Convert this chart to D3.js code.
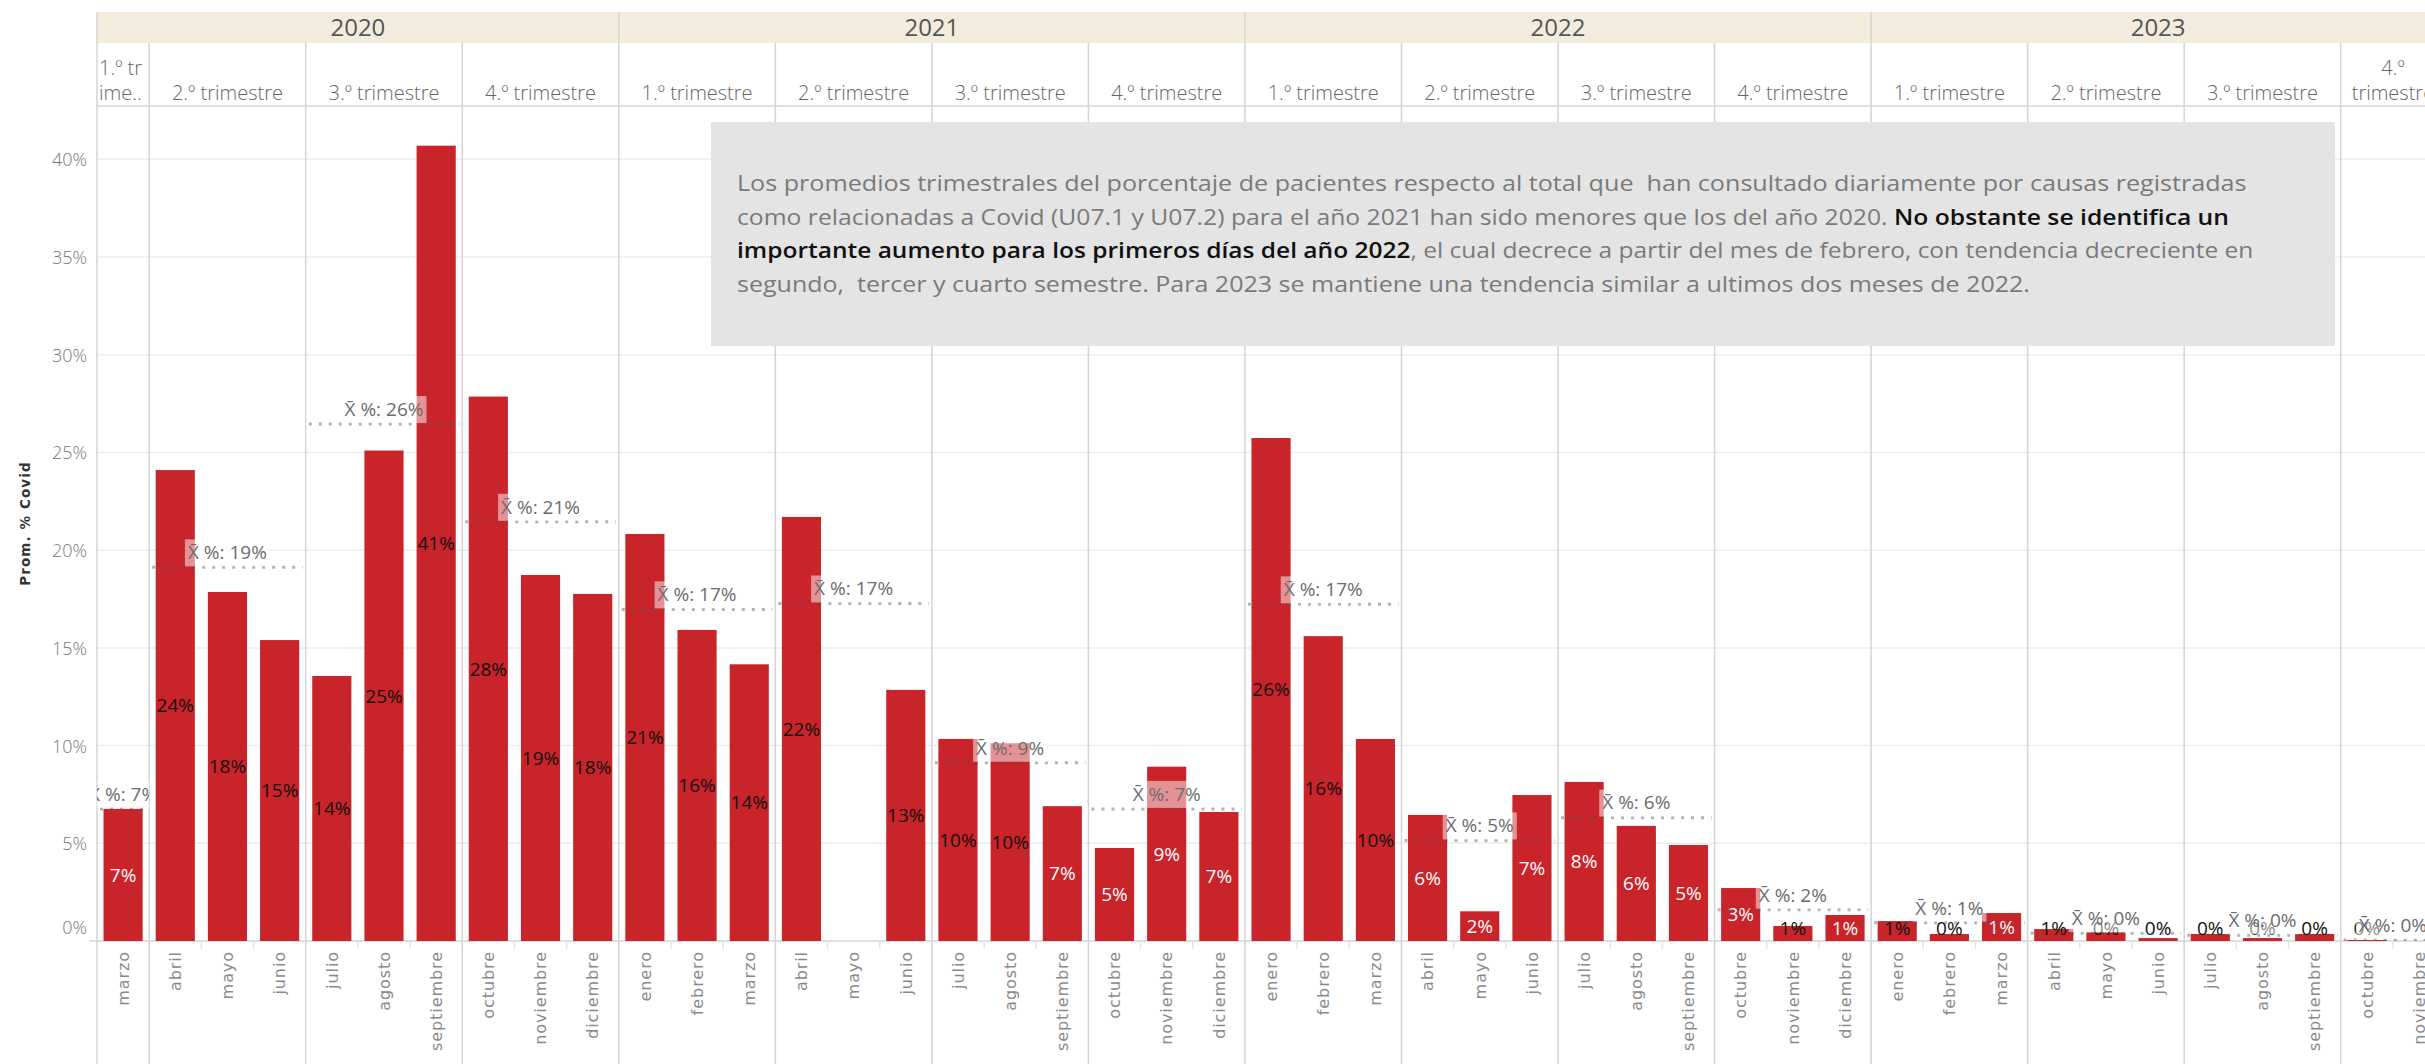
<!DOCTYPE html>
<html><head><meta charset="utf-8">
<script src="https://cdn.jsdelivr.net/npm/d3@7"></script>
<style>
html,body{margin:0;padding:0;background:#fff;}
svg{display:block;}
</style></head><body>
<svg id="chart" width="2425" height="1064" font-family="'Open Sans','Noto Sans',sans-serif"></svg>
<script>
// ---------------- DATA ----------------
const monthNames = ["enero","febrero","marzo","abril","mayo","junio","julio","agosto","septiembre","octubre","noviembre","diciembre"];
const years = [2020, 2021, 2022, 2023];
const firstMonthOfYear = [2, 0, 0, 0];
const values2020 = [6.76, 24.1, 17.86, 15.4, 13.56, 25.1, 40.7, 27.86, 18.73, 17.76];
const values2021 = [20.83, 15.92, 14.16, 21.7, null, 12.85, 10.34, 10.12, 6.9, 4.76, 8.92, 6.6];
const values2022 = [25.74, 15.6, 10.34, 6.45, 1.52, 7.47, 8.14, 5.89, 4.91, 2.71, 0.77, 1.33];
const values2023 = [1.02, 0.36, 1.43, 0.61, 0.44, 0.15, 0.36, 0.15, 0.36, 0.05, null];
const quarterLabels = ["1.º trimestre", "2.º trimestre", "3.º trimestre", "4.º trimestre"];
const yTickValues = [0, 5, 10, 15, 20, 25, 30, 35, 40];
const yAxisTitle = "Prom. % Covid";
const meanPrefix = "X\u0304 %: ";
const noteLines = [
  [{t:"Los promedios trimestrales del porcentaje de pacientes respecto al total que  han consultado diariamente por causas registradas", b:false}],
  [{t:"como relacionadas a Covid (U07.1 y U07.2) para el año 2021 han sido menores que los del año 2020. ", b:false},{t:"No obstante se identifica un", b:true}],
  [{t:"importante aumento para los primeros días del año 2022", b:true},{t:", el cual decrece a partir del mes de febrero, con tendencia decreciente en", b:false}],
  [{t:"segundo,  tercer y cuarto semestre. Para 2023 se mantiene una tendencia similar a ultimos dos meses de 2022.", b:false}]
];
const seriesByYear = [values2020, values2021, values2022, values2023];

// ---------------- LAYOUT ----------------
const W = 2425, H = 1064;
const plotLeft = 97, plotTop = 106, baseY = 941;
const monthStep = 52.18;
const bandTop = 12, bandBottom = 43;
const lineCol = "#d4d4d4";
const barCol = "#c8242a";

const rows = [];
years.forEach((yr, i) => {
  seriesByYear[i].forEach((v, j) => {
    const m = firstMonthOfYear[i] + j;
    rows.push({key: yr + "-" + m, year: yr, month: m, q: Math.floor(m / 3), value: v});
  });
});

const x = d3.scaleBand().domain(rows.map(d => d.key))
  .range([plotLeft, plotLeft + rows.length * monthStep])
  .paddingInner(0.25).paddingOuter(0.125);
const y = d3.scaleLinear().domain([0, 42.73]).range([baseY, plotTop]);
const half = x.step() * x.paddingOuter();

const quarters = d3.groups(rows, d => d.year + "-" + d.q).map(([k, ms]) => ({
  key: k, year: ms[0].year, q: ms[0].q, months: ms,
  x0: x(ms[0].key) - half,
  x1: x(ms[ms.length - 1].key) + x.bandwidth() + half,
  mean: d3.mean(ms, d => d.value)
}));
const yearSpans = d3.groups(quarters, d => d.year).map(([yr, qs]) => ({
  year: yr, x0: qs[0].x0, x1: qs[qs.length - 1].x1
}));
const yearStarts = new Set(yearSpans.map(d => d.x0));

const svg = d3.select("#chart");
const defs = svg.append("defs");

// year band
svg.append("rect").attr("x", plotLeft).attr("y", bandTop).attr("width", W - plotLeft)
  .attr("height", bandBottom - bandTop).attr("fill", "#f3ecdc");

// gridlines
svg.append("g").selectAll("line").data(yTickValues.filter(v => v > 0)).join("line")
  .attr("x1", plotLeft).attr("x2", W).attr("y1", d => y(d)).attr("y2", d => y(d))
  .attr("stroke", "#eeeeee").attr("stroke-width", 1.5);

// header bottom and baseline
svg.append("line").attr("x1", plotLeft).attr("x2", W).attr("y1", plotTop).attr("y2", plotTop)
  .attr("stroke", lineCol).attr("stroke-width", 1.5);
svg.append("line").attr("x1", plotLeft - 8).attr("x2", W).attr("y1", baseY).attr("y2", baseY)
  .attr("stroke", lineCol).attr("stroke-width", 1.5);

// left edge
svg.append("line").attr("x1", plotLeft).attr("x2", plotLeft).attr("y1", bandTop).attr("y2", H)
  .attr("stroke", lineCol).attr("stroke-width", 1.5);
// quarter / year dividers
svg.append("g").selectAll("line").data(quarters.filter(q => q.x0 > plotLeft + 1)).join("line")
  .attr("x1", d => d.x0).attr("x2", d => d.x0)
  .attr("y1", d => yearStarts.has(d.x0) ? bandTop : bandBottom)
  .attr("y2", H).attr("stroke", lineCol).attr("stroke-width", 1.5);

// month separator ticks
svg.append("g").selectAll("line").data(rows.filter(d => d.month % 3 !== 0 && !(d.year === years[0] && d.month === firstMonthOfYear[0]))).join("line")
  .attr("x1", d => x(d.key) - half).attr("x2", d => x(d.key) - half)
  .attr("y1", baseY).attr("y2", baseY + 8).attr("stroke", "#e4e4e4").attr("stroke-width", 1.5);

// bars
const barData = rows.filter(d => d.value != null);
svg.append("g").selectAll("rect").data(barData).join("rect")
  .attr("x", d => x(d.key)).attr("width", x.bandwidth())
  .attr("y", d => y(d.value)).attr("height", d => baseY - y(d.value))
  .attr("fill", barCol);

// bar labels
svg.append("g").selectAll("text").data(barData).join("text")
  .attr("x", d => x(d.key) + x.bandwidth() / 2)
  .attr("y", d => Math.min((y(d.value) + baseY) / 2, baseY - 13))
  .attr("dy", "0.36em").attr("text-anchor", "middle")
  .attr("font-size", 19)
  .attr("fill", d => (d.value >= 9.95 || baseY - y(d.value) < 22) ? "#111" : "#ffffff")
  .text(d => Math.round(d.value) + "%");

// mean lines + labels, clipped per quarter pane
quarters.forEach((q, i) => {
  const id = "clipq" + i;
  defs.append("clipPath").attr("id", id).append("rect")
    .attr("x", q.x0).attr("y", plotTop).attr("width", q.x1 - q.x0).attr("height", baseY - plotTop);
  const g = svg.append("g").attr("clip-path", `url(#${id})`);
  const my = y(q.mean);
  g.append("line").attr("x1", q.x0 + 3).attr("x2", q.x1 - 3).attr("y1", my).attr("y2", my)
    .attr("stroke", "#555").attr("stroke-opacity", 0.45).attr("stroke-width", 3)
    .attr("stroke-dasharray", "3 7");
  const cx = (q.x0 + q.x1) / 2, cy = my - 15;
  const bg = g.append("rect");
  const t = g.append("text").attr("x", cx).attr("y", cy).attr("dy", "0.36em")
    .attr("text-anchor", "middle").attr("font-size", 19).attr("fill", "#6c6c6c")
    .text(meanPrefix + Math.round(q.mean) + "%");
  const bb = t.node().getBBox();
  bg.attr("x", bb.x - 3).attr("width", bb.width + 6).attr("y", cy - 13).attr("height", 27)
    .attr("fill", "#fff").attr("fill-opacity", 0.5);
});

// y axis
const yAxis = svg.append("g").attr("transform", `translate(${plotLeft - 10},0)`)
  .call(d3.axisLeft(y).tickValues(yTickValues).tickFormat(d => d + "%").tickSize(0).tickPadding(0));
yAxis.attr("font-family", null).attr("font-size", null);
yAxis.select(".domain").remove();
yAxis.selectAll("text").attr("font-family", "'Open Sans',sans-serif").attr("font-size", 18)
  .attr("fill", "#777").attr("font-weight", 300)
  .attr("dy", d => d === 0 ? "-0.4em" : "0.36em");

svg.append("text").attr("transform", `translate(25,${(plotTop + baseY) / 2}) rotate(-90)`)
  .attr("text-anchor", "middle").attr("dy", "0.36em")
  .attr("font-family", "'DejaVu Sans',sans-serif").attr("font-size", 13.5).attr("font-weight", "bold")
  .attr("letter-spacing", 1.1).attr("fill", "#333").text(yAxisTitle);

// month axis
const xAxis = svg.append("g").attr("transform", `translate(0,${baseY})`)
  .call(d3.axisBottom(x).tickSize(0).tickFormat(k => monthNames[+k.split("-")[1]]));
xAxis.attr("font-family", null).attr("font-size", null);
xAxis.select(".domain").remove();
const monthText = xAxis.selectAll("text").attr("transform", "rotate(-90)")
  .attr("x", -10).attr("y", 0).attr("dy", "0.36em").attr("text-anchor", "end")
  .attr("font-family", "'DejaVu Sans',sans-serif").attr("font-size", 16)
  .attr("fill", "#8a8a8a");
// calibrate tracking so that "septiembre" is about 100px long
{
  const probe = xAxis.append("text").attr("font-family", "'DejaVu Sans',sans-serif").attr("font-size", 16).text("septiembre");
  const natural = probe.node().getComputedTextLength();
  probe.remove();
  const ls = Math.max(0, (100 - natural) / 10);
  monthText.style("letter-spacing", ls + "px");
}

// year labels
svg.append("g").selectAll("text").data(yearSpans).join("text")
  .attr("x", d => (d.x0 + d.x1) / 2).attr("y", (bandTop + bandBottom) / 2)
  .attr("dy", "0.36em").attr("text-anchor", "middle").attr("font-size", 24).attr("fill", "#555")
  .text(d => d.year);

// quarter header labels
const qg = svg.append("g").attr("font-size", 20).attr("font-weight", 300).attr("fill", "#666");
quarters.forEach(q => {
  const label = quarterLabels[q.q];
  const avail = q.x1 - q.x0 - 4;
  const cx = (q.x0 + q.x1) / 2;
  const t = qg.append("text").attr("x", cx).attr("y", 100).attr("text-anchor", "middle").text(label);
  if (t.node().getComputedTextLength() <= avail) return;
  t.remove();
  const words = label.split(" ");
  const probe = qg.append("text").text(words[1]);
  const fitsWords = probe.node().getComputedTextLength() <= avail;
  probe.remove();
  if (fitsWords) {
    qg.append("text").attr("x", cx).attr("y", 75).attr("text-anchor", "middle").text(words[0]);
    qg.append("text").attr("x", cx).attr("y", 100).attr("text-anchor", "middle").text(words[1]);
  } else {
    const narrow = avail - 4;
    const p = qg.append("text").attr("x", q.x0 + 2).attr("y", 75);
    let n = 1;
    while (n < label.length) { p.text(label.slice(0, n + 1)); if (p.node().getComputedTextLength() > narrow) break; n++; }
    p.text(label.slice(0, n));
    const rest = label.slice(n);
    const p2 = qg.append("text").attr("x", q.x0 + 2).attr("y", 100);
    let m = rest.length;
    while (m > 0) { p2.text(rest.slice(0, m) + ".."); if (p2.node().getComputedTextLength() <= narrow) break; m--; }
  }
});

// annotation box
const boxX = 711, boxY = 122, boxW = 1624, boxH = 224;
svg.append("rect").attr("x", boxX).attr("y", boxY).attr("width", boxW).attr("height", boxH).attr("fill", "#e4e4e4");
const noteWidths = [1510, 1493, 1517, 1294];
const noteBaselines = [191, 224.5, 258, 291.5];
noteLines.forEach((segs, i) => {
  const t = svg.append("text").attr("font-size", 22).style("white-space", "pre");
  segs.forEach(s => t.append("tspan").text(s.t).attr("font-weight", s.b ? 600 : 400).attr("fill", s.b ? "#111" : "#7a7a7a"));
  const w = t.node().getBBox().width;
  t.attr("transform", `translate(737,${noteBaselines[i]}) scale(${noteWidths[i] / w},1)`);
});
</script>
</body></html>
